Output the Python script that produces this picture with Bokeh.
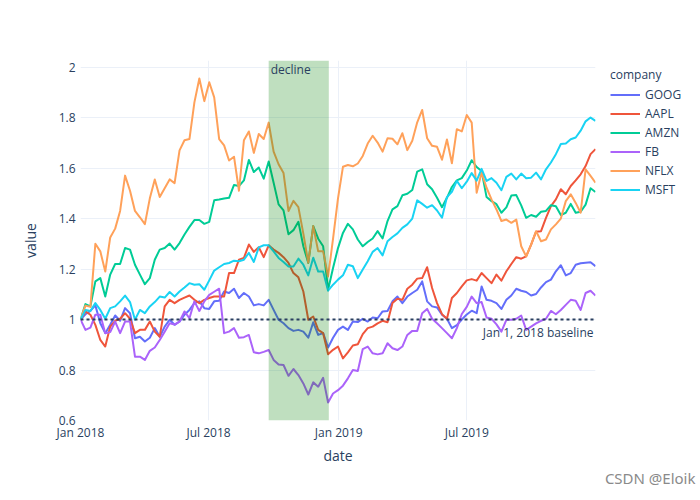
import pandas as pd
from bokeh.plotting import figure
from bokeh.models import (Range1d, FixedTicker, BoxAnnotation, Span, Label, Title,
                          Legend, LegendItem, DatetimeTickFormatter)
from bokeh.embed import file_html
from bokeh.resources import INLINE

# ---------------- data ----------------
start_date = "2018-01-01"
companies = ["GOOG", "AAPL", "AMZN", "FB", "NFLX", "MSFT"]
colors = ["#636efa", "#EF553B", "#00cc96", "#ab63fa", "#FFA15A", "#19d3f3"]

GOOG = [
    1.000, 1.021, 1.034, 1.056, 0.985, 0.946, 0.979, 1.016, 0.995, 1.045,
    1.025, 0.926, 0.932, 0.913, 0.928, 0.966, 0.932, 0.972, 0.999, 0.979,
    0.992, 1.019, 1.038, 1.065, 1.072, 1.045, 1.042, 1.072, 1.074, 1.111,
    1.105, 1.122, 1.085, 1.105, 1.091, 1.056, 1.061, 1.056, 1.078, 1.038,
    0.999, 0.985, 0.966, 0.955, 0.959, 0.952, 0.928, 0.989, 0.939, 0.946,
    0.889, 0.928, 0.959, 0.972, 0.959, 0.992, 0.990, 1.003, 0.992, 1.008,
    1.005, 1.032, 1.034, 1.072, 1.091, 1.065, 1.091, 1.105, 1.118, 1.151,
    1.072, 1.052, 1.048, 1.019, 1.003, 0.966, 0.978, 1.000, 1.020, 1.035,
    1.025, 1.131, 1.078, 1.074, 1.065, 1.042, 1.078, 1.095, 1.122, 1.114,
    1.109, 1.095, 1.101, 1.127, 1.148, 1.158, 1.191, 1.215, 1.175, 1.184,
    1.217, 1.223, 1.225, 1.227, 1.211]

AAPL = [
    1.000, 1.032, 1.019, 0.979, 0.919, 0.893, 0.972, 0.995, 1.003, 1.025,
    1.003, 0.946, 0.959, 0.959, 0.992, 0.952, 0.932, 1.052, 1.078, 1.065,
    1.078, 1.087, 1.095, 1.078, 1.065, 1.078, 1.085, 1.091, 1.091, 1.091,
    1.184, 1.184, 1.237, 1.244, 1.297, 1.268, 1.286, 1.247, 1.294, 1.277,
    1.264, 1.247, 1.224, 1.184, 1.167, 1.111, 0.999, 1.012, 0.959, 0.946,
    0.862, 0.880, 0.893, 0.846, 0.870, 0.897, 0.902, 0.942, 0.966, 0.972,
    0.985, 0.995, 0.989, 1.065, 1.082, 1.078, 1.122, 1.138, 1.162, 1.164,
    1.207, 1.125, 1.065, 1.021, 1.003, 1.085, 1.105, 1.131, 1.155, 1.160,
    1.154, 1.184, 1.164, 1.144, 1.178, 1.154, 1.191, 1.220, 1.247, 1.241,
    1.250, 1.297, 1.348, 1.350, 1.403, 1.449, 1.476, 1.516, 1.496, 1.529,
    1.551, 1.575, 1.608, 1.655, 1.675]

AMZN = [
    1.000, 1.061, 1.052, 1.151, 1.164, 1.091, 1.178, 1.220, 1.220, 1.283,
    1.277, 1.217, 1.178, 1.140, 1.164, 1.237, 1.277, 1.283, 1.301, 1.277,
    1.303, 1.337, 1.367, 1.394, 1.394, 1.379, 1.387, 1.472, 1.475, 1.479,
    1.482, 1.533, 1.529, 1.551, 1.632, 1.584, 1.602, 1.558, 1.626, 1.542,
    1.456, 1.432, 1.338, 1.354, 1.387, 1.290, 1.224, 1.370, 1.320, 1.290,
    1.118, 1.204, 1.283, 1.343, 1.379, 1.357, 1.317, 1.290, 1.307, 1.321,
    1.350, 1.321, 1.390, 1.436, 1.449, 1.492, 1.498, 1.513, 1.586, 1.595,
    1.536, 1.516, 1.482, 1.445, 1.482, 1.525, 1.551, 1.560, 1.590, 1.631,
    1.604, 1.588, 1.485, 1.469, 1.457, 1.423, 1.444, 1.491, 1.493, 1.452,
    1.403, 1.414, 1.407, 1.427, 1.430, 1.453, 1.449, 1.414, 1.423, 1.458,
    1.423, 1.427, 1.455, 1.520, 1.505]

FB = [
    1.000, 0.959, 0.968, 1.019, 1.019, 0.946, 0.950, 0.992, 0.946, 0.992,
    0.992, 0.853, 0.853, 0.840, 0.876, 0.889, 0.919, 0.952, 0.985, 0.980,
    0.992, 1.032, 1.005, 1.072, 1.034, 1.072, 1.098, 1.110, 1.122, 0.946,
    0.952, 0.966, 0.928, 0.930, 0.939, 0.870, 0.866, 0.872, 0.879, 0.840,
    0.822, 0.820, 0.777, 0.804, 0.780, 0.747, 0.703, 0.751, 0.734, 0.769,
    0.671, 0.707, 0.720, 0.738, 0.767, 0.800, 0.796, 0.883, 0.893, 0.866,
    0.862, 0.866, 0.906, 0.886, 0.879, 0.893, 0.939, 0.955, 0.955, 1.025,
    1.042, 1.003, 0.985, 0.966, 0.946, 0.926, 0.966, 1.022, 1.050, 1.091,
    1.065, 1.069, 1.008, 1.003, 0.981, 0.952, 0.999, 0.999, 1.003, 1.016,
    0.959, 0.972, 0.985, 0.995, 1.003, 1.034, 1.021, 1.038, 1.058, 1.078,
    1.074, 1.038, 1.105, 1.114, 1.095]

NFLX = [
    1.000, 1.055, 1.050, 1.300, 1.270, 1.190, 1.325, 1.360, 1.430, 1.570,
    1.510, 1.430, 1.405, 1.378, 1.480, 1.555, 1.485, 1.520, 1.555, 1.540,
    1.670, 1.710, 1.715, 1.860, 1.955, 1.865, 1.940, 1.880, 1.715, 1.690,
    1.630, 1.645, 1.510, 1.710, 1.745, 1.660, 1.735, 1.715, 1.780, 1.665,
    1.615, 1.580, 1.430, 1.470, 1.445, 1.340, 1.225, 1.370, 1.270, 1.270,
    1.170, 1.320, 1.480, 1.605, 1.612, 1.607, 1.618, 1.648, 1.697, 1.728,
    1.701, 1.665, 1.718, 1.716, 1.694, 1.738, 1.671, 1.708, 1.781, 1.830,
    1.718, 1.688, 1.684, 1.633, 1.713, 1.619, 1.754, 1.745, 1.810, 1.780,
    1.502, 1.582, 1.522, 1.476, 1.436, 1.390, 1.396, 1.383, 1.396, 1.290,
    1.250, 1.297, 1.350, 1.310, 1.317, 1.357, 1.377, 1.400, 1.469, 1.496,
    1.462, 1.423, 1.595, 1.569, 1.542]

MSFT = [
    1.000, 1.038, 1.034, 1.065, 1.038, 1.003, 1.045, 1.052, 1.072, 1.095,
    1.069, 0.999, 1.038, 1.025, 1.052, 1.069, 1.091, 1.087, 1.109, 1.091,
    1.111, 1.127, 1.144, 1.138, 1.140, 1.118, 1.155, 1.194, 1.207, 1.220,
    1.224, 1.233, 1.231, 1.237, 1.264, 1.228, 1.286, 1.294, 1.294, 1.270,
    1.244, 1.228, 1.210, 1.210, 1.241, 1.217, 1.175, 1.245, 1.190, 1.190,
    1.114, 1.138, 1.158, 1.175, 1.217, 1.211, 1.164, 1.198, 1.231, 1.268,
    1.283, 1.254, 1.310, 1.327, 1.341, 1.363, 1.377, 1.400, 1.472, 1.458,
    1.443, 1.453, 1.432, 1.403, 1.485, 1.506, 1.549, 1.520, 1.546, 1.580,
    1.550, 1.597, 1.549, 1.560, 1.542, 1.512, 1.565, 1.578, 1.555, 1.578,
    1.560, 1.562, 1.582, 1.555, 1.595, 1.622, 1.655, 1.695, 1.697, 1.714,
    1.721, 1.748, 1.785, 1.800, 1.787]

series = [GOOG, AAPL, AMZN, FB, NFLX, MSFT]
dates = pd.date_range(start_date, periods=len(GOOG), freq="7D")

x_tick_dates = ["2018-01-01", "2018-07-01", "2019-01-01", "2019-07-01"]
x_tick_labels = ["Jan 2018", "Jul 2018", "Jan 2019", "Jul 2019"]
y_ticks = [0.6, 0.8, 1.0, 1.2, 1.4, 1.6, 1.8, 2.0]
y_tick_labels = ["0.6", "0.8", "1", "1.2", "1.4", "1.6", "1.8", "2"]

vrect_start, vrect_end, vrect_text = "2018-09-24", "2018-12-18", "decline"
baseline_value, baseline_text = 1.0, "Jan 1, 2018 baseline"
watermark = "CSDN @Eloik"
y_min, y_max = 0.6, 2.026


def ms(d):
    return pd.Timestamp(d).value / 1e6


FONT = "Open Sans"
TXT = "#2a3f5f"
GRID = "#EBF0F8"

p = figure(frame_width=515, frame_height=360, x_axis_type="datetime",
           output_backend="svg", toolbar_location=None,
           x_range=Range1d(ms(dates[0]), ms(dates[-1])),
           y_range=Range1d(y_min, y_max),
           min_border_left=80, min_border_right=105,
           min_border_top=60, min_border_bottom=80)
p.outline_line_color = None
p.background_fill_color = "white"
p.border_fill_color = "white"

renderers = []
for name, vals, col in zip(companies, series, colors):
    r = p.line(x=list(dates), y=vals, line_color=col, line_width=2,
               line_join="round")
    renderers.append((name, r))

# shapes (above traces, like plotly)
box = BoxAnnotation(left=ms(vrect_start), right=ms(vrect_end),
                    fill_color="green", fill_alpha=0.25, line_alpha=0)
p.add_layout(box)
span = Span(location=baseline_value, dimension="width", line_color=TXT,
            line_width=2, line_dash="3 3")
p.add_layout(span)

p.add_layout(Label(x=ms(vrect_start), y=351, y_units="screen", x_offset=2,
                   text=vrect_text, text_font=FONT, text_font_size="12px",
                   text_color=TXT, text_baseline="middle", text_align="left"))
p.add_layout(Label(x=ms(dates[-1]), y=baseline_value, x_offset=-2, y_offset=-4,
                   text=baseline_text, text_font=FONT, text_font_size="12px",
                   text_color=TXT, text_baseline="top", text_align="right"))

# axes
xt = [ms(d) for d in x_tick_dates]
p.xaxis.ticker = FixedTicker(ticks=xt)
p.xaxis.formatter = DatetimeTickFormatter(months="%b %Y", days="%b %Y")
p.xaxis.major_label_overrides = {t: l for t, l in zip(xt, x_tick_labels)}
p.yaxis.ticker = FixedTicker(ticks=y_ticks)
p.yaxis.major_label_overrides = {t: l for t, l in zip(y_ticks, y_tick_labels)}
p.xgrid.ticker = FixedTicker(ticks=xt)
p.ygrid.ticker = FixedTicker(ticks=y_ticks)
for g in (p.xgrid, p.ygrid):
    g.grid_line_color = GRID
    g.grid_line_width = 1

for ax in (p.xaxis, p.yaxis):
    ax.axis_line_color = None
    ax.major_tick_line_color = None
    ax.minor_tick_line_color = None
    ax.major_tick_out = 0
    ax.major_tick_in = 0
    ax.major_label_text_font = FONT
    ax.major_label_text_font_size = "12px"
    ax.major_label_text_color = TXT
    ax.axis_label_text_font = FONT
    ax.axis_label_text_font_size = "14px"
    ax.axis_label_text_font_style = "normal"
    ax.axis_label_text_color = TXT
p.xaxis.axis_label = "date"
p.yaxis.axis_label = "value"
p.xaxis.major_label_standoff = 3
p.xaxis.axis_label_standoff = 2
p.yaxis.major_label_standoff = 5
p.yaxis.axis_label_standoff = 16

# watermark below the x axis
wm = Title(text=watermark, align="right", offset=-100, text_font="Noto Sans",
           text_font_size="15px", text_font_style="normal",
           text_color="#8a8a8a", standoff=0, vertical_align="top")
p.add_layout(wm, "below")

legend = Legend(items=[LegendItem(label=n, renderers=[r]) for n, r in renderers],
                location=(15, 221), title="company",
                title_text_font=FONT, title_text_font_size="12px",
                title_text_color=TXT, title_text_font_style="normal",
                title_standoff=2,
                label_text_font=FONT, label_text_font_size="12px",
                label_text_color=TXT, glyph_width=30, glyph_height=19,
                label_height=19, label_standoff=5, spacing=0, padding=0,
                margin=0, border_line_alpha=0, background_fill_alpha=0)
p.add_layout(legend, "right")

open("out.html", "w").write(file_html(p, INLINE))
